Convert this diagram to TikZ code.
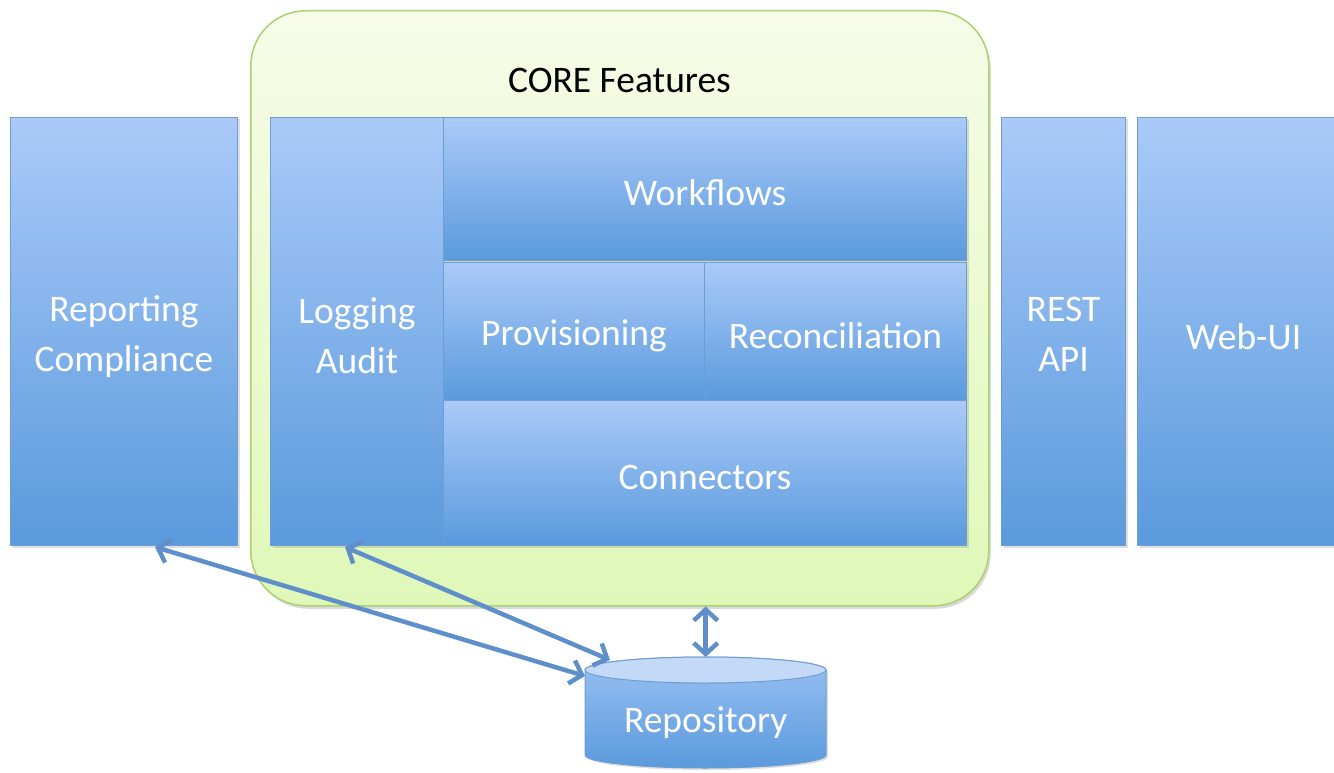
\documentclass[tikz,border=0pt]{standalone}
\usepackage{fontspec}
\setmainfont{Carlito}
\usetikzlibrary{arrows.meta,shadows,calc}
\definecolor{boxtop}{HTML}{AACAF8}
\definecolor{boxbot}{HTML}{5A9ADD}
\definecolor{boxline}{HTML}{6E9DD3}
\definecolor{coretop}{HTML}{F6FCE8}
\definecolor{corebot}{HTML}{DFF8B8}
\definecolor{coreline}{HTML}{ACD170}
\definecolor{arrowc}{HTML}{5F8FCB}
\definecolor{cyltop}{HTML}{C3D9F7}
\begin{document}
\begin{tikzpicture}[x=1pt,y=-1pt,
  bx/.style={draw=boxline, line width=1pt, top color=boxtop, bottom color=boxbot,
    anchor=north west, inner sep=0pt,
    drop shadow={opacity=0.25, shadow xshift=2pt, shadow yshift=-2pt}},
  lbl/.style={text=white, font=\fontsize{37.5}{50}\selectfont, inner sep=0pt, align=center},
  link/.style={draw=arrowc, line width=4.5pt,
    {Straight Barb[length=11pt,width=24pt]}-{Straight Barb[length=11pt,width=24pt]}}]
\useasboundingbox (0,0) rectangle (1334,773);

% core container
\node[draw=coreline, line width=1.5pt, rounded corners=55pt, top color=coretop,
  bottom color=corebot, minimum width=738, minimum height=595, anchor=north west,
  drop shadow={opacity=0.3, shadow xshift=2pt, shadow yshift=-3pt}] (core) at (250,10) {};
\node[font=\fontsize{37.5}{50}\selectfont, text=black] (title) at (619.5,80) {CORE Features};

% boxes
\node[bx, minimum width=227, minimum height=428,
  label={[lbl,yshift=-5pt]center:{Reporting\\Compliance}}] (rc) at (10,117) {};
\node[bx, minimum width=173, minimum height=428,
  label={[lbl,yshift=-4pt]center:{Logging\\Audit}}] (la) at (270,117) {};
\node[bx, minimum width=523, minimum height=143,
  label={[lbl,yshift=-4pt]center:{Workflows}}] (wf) at (443,117) {};
\node[bx, minimum width=261, minimum height=138,
  label={[lbl,yshift=-4pt]center:{Provisioning}}] (pv) at (443,262) {};
\node[bx, minimum width=262, minimum height=138,
  label={[lbl,yshift=-4pt]center:{Reconciliation}}] (rec) at (704,262) {};
\node[bx, minimum width=523, minimum height=145,
  label={[lbl,yshift=-4pt]center:{Connectors}}] (cn) at (443,400) {};
\node[bx, minimum width=124, minimum height=428,
  label={[lbl,yshift=-3pt]center:{REST\\API}}] (rest) at (1001,117) {};
\node[bx, minimum width=212, minimum height=428,
  label={[lbl,yshift=-5pt]center:{Web-UI}}] (web) at (1137,117) {};

% repository cylinder
\node[minimum width=241, minimum height=111, anchor=north west, inner sep=0pt] (repo) at (585,657) {};
\path[draw=boxline, line width=1pt, top color=boxtop!80!boxbot, bottom color=boxbot,
  drop shadow={opacity=0.25, shadow xshift=2pt, shadow yshift=-2pt}]
  (585,670) -- (585,755) arc[start angle=180, end angle=0, x radius=120.5, y radius=13]
  -- (826,670) arc[start angle=360, end angle=180, x radius=120.5, y radius=13] -- cycle;
\draw[draw=boxline, line width=1pt, fill=cyltop] (705.5,670) ellipse[x radius=120.5, y radius=13];
\node[lbl] (repolabel) at ([yshift=-10pt]repo.center) {Repository};

% connectors
\draw[link] ([xshift=145pt,yshift=-1pt]rc.south west) -- ([yshift=-19pt]repo.north west);
\draw[link] ([xshift=75pt,yshift=-1pt]la.south west) -- ([xshift=25pt,yshift=-3pt]repo.north west);
\draw[link] (repo.north |- core.south) -- (repo.north);
\end{tikzpicture}
\end{document}
